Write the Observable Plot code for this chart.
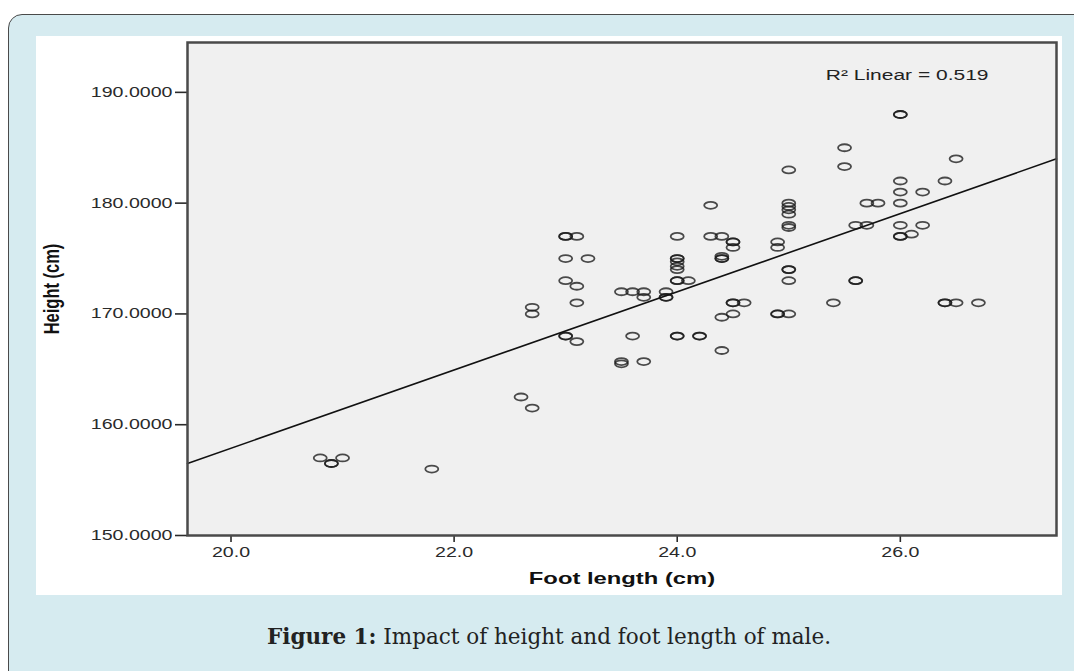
<!DOCTYPE html>
<html>
<head>
<meta charset="utf-8">
<script src="https://cdn.jsdelivr.net/npm/d3@7"></script>
<script src="https://cdn.jsdelivr.net/npm/@observablehq/plot@0.6"></script>
<style>
  html, body { margin: 0; padding: 0; background: #fff; }
  body { width: 1074px; height: 671px; overflow: hidden; position: relative; }
  #box { position: absolute; left: 8px; top: 14px; width: 1100px; height: 700px; background: #d6ebf0; border: 1.5px solid #4a4a4a; border-radius: 14px; }
  #panel { position: absolute; left: 36px; top: 36px; width: 1026px; height: 559px; background: #fff; }
  #caption { position: absolute; left: 36px; width: 1026px; top: 623px; text-align: center; font-family: "DejaVu Serif", serif; font-size: 21.5px; color: #222; line-height: 28px; }
  #caption b { font-weight: bold; }
</style>
</head>
<body>
<div id="box"></div>
<div id="panel"></div>
<div id="caption"><b>Figure 1:</b> Impact of height and foot length of male.</div>
<script>
// Scatter data (foot length cm, height cm); repeats = overlapping points
const footLength = [
  20.8, 20.9, 20.9, 21.0, 21.8,
  22.6, 22.7, 22.7, 22.7,
  23.0, 23.0, 23.1, 23.0, 23.2, 23.0, 23.1, 23.1, 23.0, 23.0, 23.1,
  23.5, 23.5, 23.5, 23.6, 23.7, 23.7, 23.6, 23.7,
  23.9, 23.9, 23.9,
  24.0, 24.0, 24.0, 24.0, 24.0, 24.0, 24.0, 24.0, 24.1, 24.0, 24.0, 24.2, 24.2,
  24.3, 24.3, 24.4, 24.4, 24.4, 24.4, 24.5, 24.5, 24.5, 24.4, 24.5, 24.5, 24.6, 24.5, 24.4,
  24.9, 24.9, 24.9, 24.9,
  25.0, 25.0, 25.0, 25.0, 25.0, 25.0, 25.0, 25.0, 25.0, 25.0, 25.0,
  25.4, 25.5, 25.5, 25.6, 25.7, 25.6, 25.6, 25.7, 25.8,
  26.0, 26.0, 26.0, 26.0, 26.0, 26.0, 26.0, 26.0, 26.1, 26.2, 26.2, 26.4, 26.5, 26.4, 26.4, 26.5, 26.7
];
const height = [
  157.0, 156.5, 156.5, 157.0, 156.0,
  162.5, 161.5, 170.6, 170.0,
  177.0, 177.0, 177.0, 175.0, 175.0, 173.0, 172.5, 171.0, 168.0, 168.0, 167.5,
  165.7, 165.5, 172.0, 172.0, 172.0, 171.5, 168.0, 165.7,
  172.0, 171.5, 171.5,
  177.0, 175.0, 175.0, 174.7, 174.3, 174.0, 173.0, 173.0, 173.0, 168.0, 168.0, 168.0, 168.0,
  179.8, 177.0, 177.0, 175.2, 175.0, 175.0, 176.5, 176.5, 176.0, 169.7, 171.0, 171.0, 171.0, 170.0, 166.7,
  176.5, 176.0, 170.0, 170.0,
  183.0, 180.0, 179.7, 179.4, 179.0, 178.0, 177.8, 174.0, 174.0, 173.0, 170.0,
  171.0, 185.0, 183.3, 178.0, 178.0, 173.0, 173.0, 180.0, 180.0,
  188.0, 188.0, 182.0, 181.0, 180.0, 178.0, 177.0, 177.0, 177.2, 181.0, 178.0, 182.0, 184.0, 171.0, 171.0, 171.0, 171.0
];
// Fit line end points as drawn in the picture
const fitX = [19.61, 27.4];
const fitY = [156.5, 184.0];
const xTicks = [20, 22, 24, 26];
const yTicks = [150, 160, 170, 180, 190];
const xDomain = [19.61, 27.4];
const yDomain = [150, 194.5];
const rSquared = "R² Linear = 0.519";
const xLabel = "Foot length (cm)";
const yLabel = "Height (cm)";

const points = footLength.map((x, i) => ({x, y: height[i]}));
const fit = fitX.map((x, i) => ({x, y: fitY[i]}));

// ellipse-shaped open marker (the picture is horizontally stretched)
const ellipse = {
  draw(context) {
    const rx = 6.5, ry = 3.5, k = 0.5523;
    context.moveTo(rx, 0);
    context.bezierCurveTo(rx, ry * k, rx * k, ry, 0, ry);
    context.bezierCurveTo(-rx * k, ry, -rx, ry * k, -rx, 0);
    context.bezierCurveTo(-rx, -ry * k, -rx * k, -ry, 0, -ry);
    context.bezierCurveTo(rx * k, -ry, rx, -ry * k, rx, 0);
    context.closePath();
  }
};

const chart = Plot.plot({
  width: 1026,
  height: 559,
  marginLeft: 151,
  marginRight: 6,
  marginTop: 6,
  marginBottom: 60,
  style: {fontFamily: "'Liberation Sans', Arial, sans-serif", fontSize: "14px", color: "#2a2a2a", background: "#fff", overflow: "visible"},
  x: {domain: xDomain, ticks: xTicks, tickFormat: d3.format(".1f"), tickSize: 7, tickPadding: 5, label: null},
  y: {domain: yDomain, ticks: yTicks, tickFormat: d3.format(".4f"), tickSize: 12, tickPadding: 3, label: null},
  marks: [
    Plot.frame({fill: "#f0f0f0"}),
    Plot.dot(points, {x: "x", y: "y", symbol: ellipse, stroke: "#1a1a1a", strokeOpacity: 0.78, strokeWidth: 1.8, fill: "none"}),
    Plot.line(fit, {x: "x", y: "y", stroke: "#111", strokeWidth: 1.6}),
    Plot.frame({stroke: "#4a4a4a", strokeWidth: 2.5}),
    Plot.text([rSquared], {frameAnchor: "top-right", textAnchor: "end", lineAnchor: "middle", dx: -68, dy: 33, fontSize: 15, fill: "#222"}),
    Plot.text([xLabel], {frameAnchor: "bottom", textAnchor: "middle", lineAnchor: "middle", dy: 43, fontSize: 17, fontWeight: "bold", fill: "#111"}),
    Plot.text([yLabel], {frameAnchor: "left", textAnchor: "middle", lineAnchor: "middle", dx: -136, rotate: -90, fontSize: 16.5, fontWeight: "bold", fill: "#111"})
  ]
});

document.getElementById("panel").appendChild(chart);

// mimic the horizontal stretch of the original raster
const num = v => (v && !/em/.test(v) && isFinite(parseFloat(v))) ? parseFloat(v) : 0;
chart.querySelectorAll("text").forEach(t => {
  const old = t.getAttribute("transform") || "";
  const rotated = /rotate/.test(old);
  const x = num(t.getAttribute("x")), y = num(t.getAttribute("y"));
  const s = rotated ? "scale(1,1.35)" : "scale(1.4,1)";
  t.setAttribute("transform", `${old} translate(${x},${y}) ${s} translate(${-x},${-y})`);
});
chart.querySelectorAll('[aria-label="y-axis tick"] path, [aria-label="x-axis tick"] path').forEach(p => {
  p.setAttribute("stroke-width", "1.6");
});
</script>
</body>
</html>
